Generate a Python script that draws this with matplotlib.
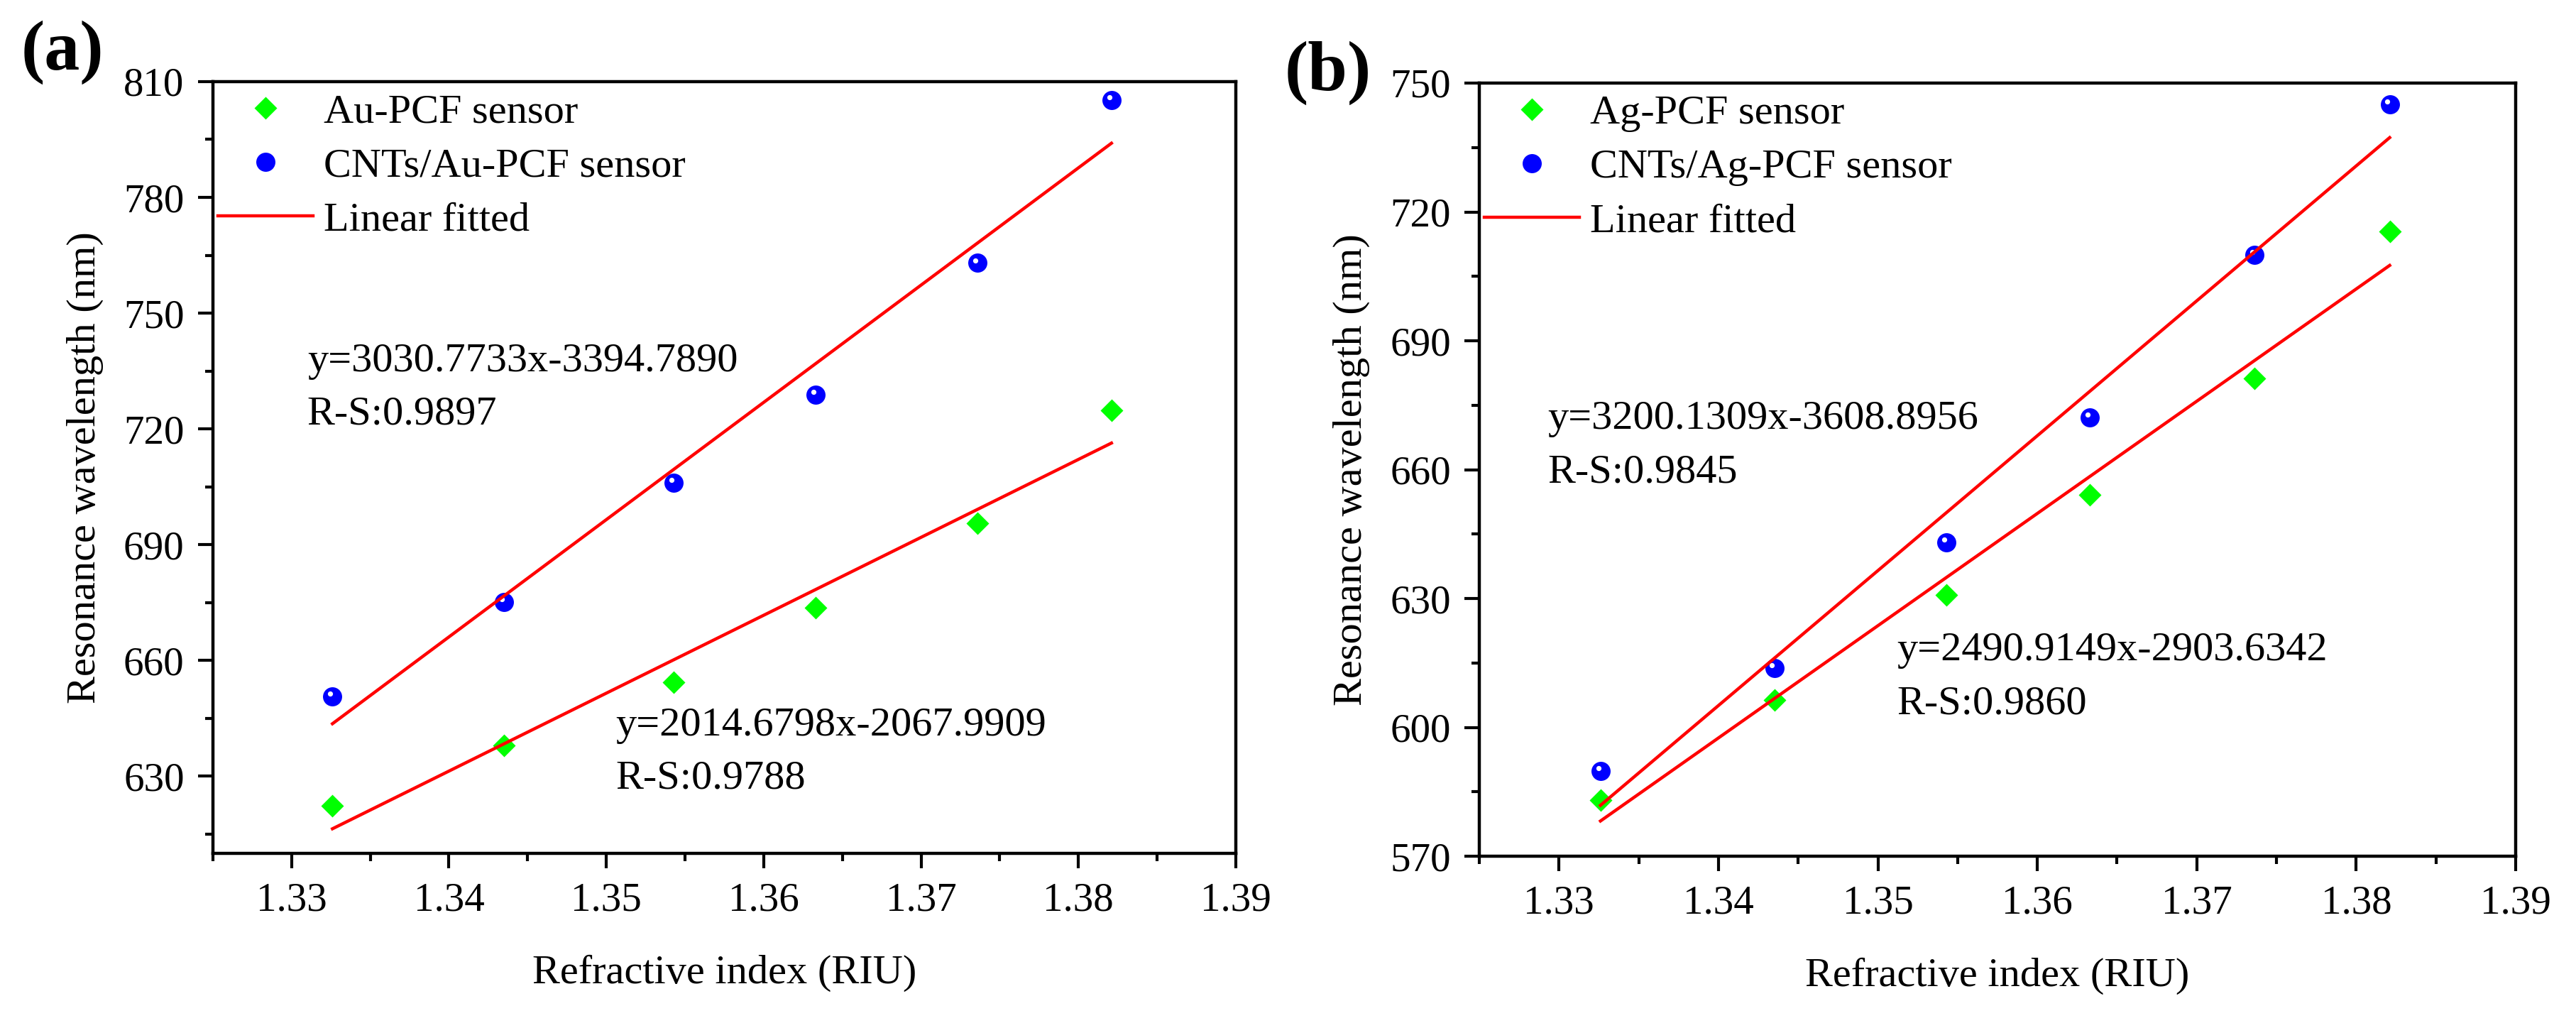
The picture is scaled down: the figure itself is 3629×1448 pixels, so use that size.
import matplotlib
matplotlib.use('Agg')
import matplotlib.pyplot as plt
import numpy as np
from matplotlib.ticker import MultipleLocator, FormatStrFormatter
from matplotlib.transforms import ScaledTranslation

plt.rcParams['font.family'] = ['Liberation Serif', 'DejaVu Serif']

# refractive index of the analyte (RIU)
ri = [1.3326, 1.3435, 1.3543, 1.3633, 1.3736, 1.3821]

# resonance wavelength (nm)
au_pcf = [622.3, 638.0, 654.4, 673.7, 695.6, 724.8]
cnt_au_pcf = [650.7, 675.2, 706.0, 728.9, 763.0, 805.2]
ag_pcf = [583.1, 606.3, 630.8, 654.2, 681.3, 715.4]
cnt_ag_pcf = [589.9, 613.8, 643.1, 672.2, 710.0, 745.1]

notes_a = ['y=3030.7733x-3394.7890', 'R-S:0.9897', 'y=2014.6798x-2067.9909', 'R-S:0.9788']
notes_b = ['y=3200.1309x-3608.8956', 'R-S:0.9845', 'y=2490.9149x-2903.6342', 'R-S:0.9860']

FS = 21

fig = plt.figure(figsize=(18.15, 7.24), dpi=200)
ax_a = fig.add_axes([0.0826, 0.1699, 0.3970, 0.7507])
ax_b = fig.add_axes([0.5741, 0.1671, 0.4022, 0.7521])


def draw_panel(ax, green, blue, labels, ylo, yhi, note_xy, notes):
    x = np.array(ri)
    g, = ax.plot(x, green, 'D', color='#00ff00', ms=8, mec='none', zorder=3)
    b, = ax.plot(x, blue, 'o', color='#0000ff', ms=9.7, mec='none', zorder=3)
    # little shine on the balls
    shine = ax.transData + ScaledTranslation(-1.1 / 72, 1.4 / 72, fig.dpi_scale_trans)
    ax.plot(x, blue, 'o', color='white', ms=2.6, mec='none', zorder=3.1, transform=shine)

    ends = x[[0, -1]]
    for ys in (green, blue):
        k, c = np.polyfit(x, ys, 1)
        fit, = ax.plot(ends, k * ends + c, color='red', lw=1.6, zorder=4)

    ax.set_xlim(1.325, 1.39)
    ax.set_ylim(ylo, yhi)
    ax.xaxis.set_major_locator(MultipleLocator(0.01))
    ax.xaxis.set_minor_locator(MultipleLocator(0.005))
    ax.xaxis.set_major_formatter(FormatStrFormatter('%.2f'))
    ax.yaxis.set_major_locator(MultipleLocator(30))
    ax.yaxis.set_minor_locator(MultipleLocator(15))

    ax.tick_params(which='both', direction='out', top=False, right=False,
                   width=1.5, labelsize=20.5, pad=7)
    ax.tick_params(which='major', length=7.5)
    ax.tick_params(which='minor', length=4)
    for sp in ax.spines.values():
        sp.set_linewidth(1.6)

    ax.set_xlabel('Refractive index (RIU)', fontsize=FS, labelpad=18)
    ax.set_ylabel('Resonance wavelength (nm)', fontsize=FS, labelpad=10)

    for (tx, ty), s in zip(note_xy, notes):
        ax.text(tx, ty, s, fontsize=FS, ha='left', va='baseline')

    ax.legend([g, b, fit], labels + ['Linear fitted'], loc='upper left',
              bbox_to_anchor=(0.005, 0.985), frameon=False, fontsize=FS,
              handlelength=2.3, handletextpad=0.25, labelspacing=0.4,
              borderpad=0, borderaxespad=0, numpoints=1)


draw_panel(ax_a, au_pcf, cnt_au_pcf, ['Au-PCF sensor', 'CNTs/Au-PCF sensor'], 610, 810,
           [(1.3310, 735.0), (1.3310, 721.2), (1.3506, 640.6), (1.3506, 626.8)], notes_a)
draw_panel(ax_b, ag_pcf, cnt_ag_pcf, ['Ag-PCF sensor', 'CNTs/Ag-PCF sensor'], 570, 750,
           [(1.3293, 669.5), (1.3293, 657.1), (1.3512, 615.7), (1.3512, 603.1)], notes_b)

fig.text(0.0242, 0.9489, '(a)', fontsize=36, fontweight='bold', ha='center', va='center')
fig.text(0.5154, 0.9289, '(b)', fontsize=36, fontweight='bold', ha='center', va='center')

fig.savefig('out.png', dpi=200)
